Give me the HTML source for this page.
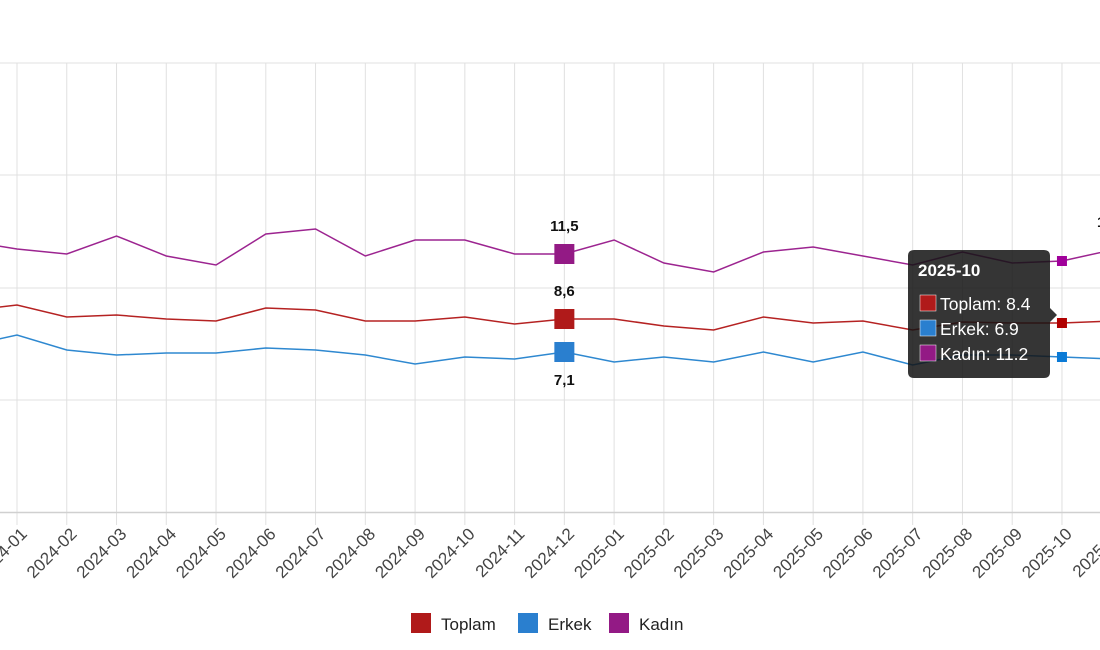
<!DOCTYPE html>
<html><head><meta charset="utf-8"><style>
html,body{margin:0;padding:0;background:#fff;width:1100px;height:650px;overflow:hidden}
svg{display:block;font-family:"Liberation Sans",sans-serif}
</style></head><body>
<svg id="s" width="1100" height="650" xmlns="http://www.w3.org/2000/svg"></svg>
<script>
var s=document.getElementById('s'),h='';
var X=function(i){return 17+i*49.76;};
[63,175,288,400].forEach(function(y){h+='<line x1="0" x2="1100" y1="'+y+'" y2="'+y+'" stroke="#e0e0e0" stroke-width="1"/>';});
for(var i=0;i<=22;i++){var x=X(i);h+='<line x1="'+x+'" x2="'+x+'" y1="63" y2="525" stroke="#e0e0e0" stroke-width="1"/>';}
h+='<line x1="0" x2="1100" y1="512.5" y2="512.5" stroke="#d0d0d0" stroke-width="1.5"/>';
for(var i=0;i<=22;i++){var x=X(i)+11,y=535;var yr=i<12?2024:2025;var m=i<12?i+1:i-11;var t=yr+'-'+(m<10?'0':'')+m;
h+='<text x="'+x+'" y="'+y+'" transform="rotate(-45 '+x+' '+y+')" text-anchor="end" font-size="17" fill="#444">'+t+'</text>';}
var K=[249,254,236,256,265,234,229,256,240,240,254,254,240,263,272,252,247,256,265,252,263,261,250];
var T=[305,317,315,319,321,308,310,321,321,317,324,319,319,326,330,317,323,321,330,322,323,323,321];
var E=[335,350,355,353,353,348,350,355,364,357,359,352,362,357,362,352,362,352,365,355,355,357,359];
function line(a,c,s0){var p='M'+X(-1)+' '+s0;a.forEach(function(y,i){p+=' L'+X(i)+' '+y;});h+='<path d="'+p+'" fill="none" stroke="'+c+'" stroke-width="1.5"/>';}
line(K,'#9c2490',241);line(T,'#b52222',311);line(E,'#2e88d0',346);
var x11=X(11);
h+='<rect x="'+(x11-10)+'" y="244" width="20" height="20" fill="#931a85"/>';
h+='<rect x="'+(x11-10)+'" y="309" width="20" height="20" fill="#b01a1a"/>';
h+='<rect x="'+(x11-10)+'" y="342" width="20" height="20" fill="#2a7fcf"/>';
h+='<text x="'+x11+'" y="231" text-anchor="middle" font-size="15" font-weight="bold" fill="#111">11,5</text>';
h+='<text x="'+x11+'" y="296" text-anchor="middle" font-size="15" font-weight="bold" fill="#111">8,6</text>';
h+='<text x="'+x11+'" y="385" text-anchor="middle" font-size="15" font-weight="bold" fill="#111">7,1</text>';
h+='<text x="1097" y="227" font-size="15" font-weight="bold" fill="#111">1</text>';
var x21=X(21);
h+='<rect x="'+(x21-5)+'" y="256" width="10" height="10" fill="#a0009a"/>';
h+='<rect x="'+(x21-5)+'" y="318" width="10" height="10" fill="#b00000"/>';
h+='<rect x="'+(x21-5)+'" y="352" width="10" height="10" fill="#0a7ad6"/>';
h+='<path d="M914 250 H1044 Q1050 250 1050 256 V308 L1057 315 L1050 322 V372 Q1050 378 1044 378 H914 Q908 378 908 372 V256 Q908 250 914 250 Z" fill="rgba(20,20,20,0.86)"/>';
h+='<text x="918" y="276" font-size="17" font-weight="bold" fill="#fff">2025-10</text>';
[['#b01a1a','Toplam: 8.4'],['#2a7fcf','Erkek: 6.9'],['#931a85','Kadın: 11.2']].forEach(function(r,j){var y=295+j*25;
h+='<rect x="920" y="'+y+'" width="16" height="16" fill="'+r[0]+'" stroke="#fff" stroke-width="0.5"/>';
h+='<text x="940" y="'+(y+15)+'" font-size="17.5" fill="#fff">'+r[1]+'</text>';});
[[411,'#b01a1a','Toplam'],[518,'#2a7fcf','Erkek'],[609,'#931a85','Kadın']].forEach(function(r){
h+='<rect x="'+r[0]+'" y="613" width="20" height="20" fill="'+r[1]+'"/>';
h+='<text x="'+(r[0]+30)+'" y="630" font-size="17" fill="#222">'+r[2]+'</text>';});
s.innerHTML=h;
</script>
</body></html>
